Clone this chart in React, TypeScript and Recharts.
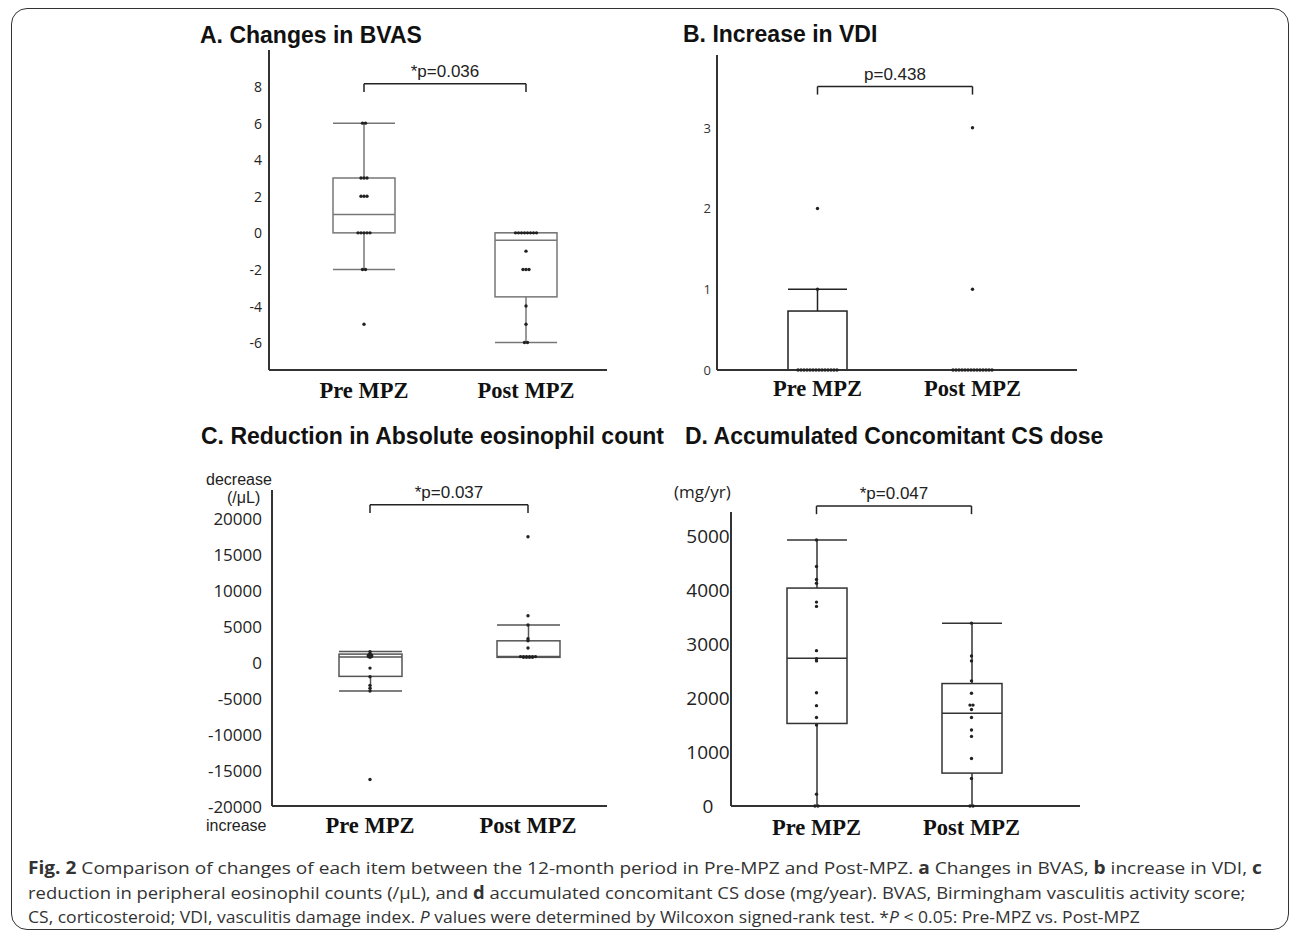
import React from 'react';
import { ComposedChart, Bar, Scatter, XAxis, YAxis, ReferenceLine } from 'recharts';

const groups = ['Pre MPZ', 'Post MPZ'];

// A. change in BVAS (points per patient)
const bvasPre = [6, 6, 3, 3, 3, 2, 2, 2, 0, 0, 0, 0, 0, -2, -2, -5];
const bvasPost = [0, 0, 0, 0, 0, 0, 0, 0, -1, -2, -2, -2, -4, -5, -6, -6];
// [low whisker, Q1, median, Q3, high whisker] for pre / post
const bvasBox = [[-2, 0, 1, 3, 6], [-6, -3.5, -0.4, 0, 0]];
const bvasTicks = [-6, -4, -2, 0, 2, 4, 6, 8];

// B. increase in VDI
const vdiPre = [0, 0, 0, 0, 0, 0, 0, 0, 0, 0, 0, 0, 0, 0, 1, 2];
const vdiPost = [0, 0, 0, 0, 0, 0, 0, 0, 0, 0, 0, 0, 0, 0, 1, 3];
const vdiBox = [[0, 0, 0, 0.73, 1], [0, 0, 0, 0, 0]];
const vdiTicks = [0, 1, 2, 3];

// C. reduction in eosinophil count (/uL)
const eosPre = [1500, 1200, 1100, 1000, 1000, 900, 900, 800, 800, 700, -800, -2000, -3200, -3600, -4000, -16300];
const eosPost = [17500, 6500, 5200, 3300, 3000, 2000, 800, 800, 800, 800, 800, 800, 700, 700, 700, 700];
const eosBox = [[-4000, -1950, 750, 1150, 1500], [700, 700, 800, 3000, 5200]];
const eosTicks = [-20000, -15000, -10000, -5000, 0, 5000, 10000, 15000, 20000];

// D. accumulated CS dose (mg/yr)
const csPre = [4930, 4440, 4200, 4130, 3780, 3700, 2880, 2730, 2690, 2100, 1860, 1640, 1500, 220, 0, 0];
const csPost = [3390, 2780, 2690, 2320, 2090, 1870, 1870, 1790, 1640, 1410, 1290, 880, 510, 0, 0];
const csBox = [[0, 1530, 2740, 4040, 4930], [0, 610, 1720, 2270, 3390]];
const csTicks = [0, 1000, 2000, 3000, 4000, 5000];

const pValues = ['*p=0.036', 'p=0.438', '*p=0.037', '*p=0.047'];

function dotsOf(values: number[], name: string) {
  const counts: Record<string, number> = {};
  const seen: Record<string, number> = {};
  values.forEach((v) => (counts[v] = (counts[v] || 0) + 1));
  return values.map((v) => {
    const k = seen[v] || 0;
    seen[v] = k + 1;
    return { name, value: v, k, n: counts[v] };
  });
}

const makeBox = (stroke: string) => (props: any) => {
  const { x, y, width, height, payload } = props;
  const [lo, q1, med, q3, hi] = payload.stats;
  const top = Math.min(y, y + height);
  const bottom = Math.max(y, y + height);
  const px = (v: number) => (hi === lo ? bottom : bottom - ((bottom - top) * (v - lo)) / (hi - lo));
  const cx = x + width / 2;
  const s = { stroke, strokeWidth: 1.5 };
  return (
    <g>
      <line x1={cx} x2={cx} y1={px(hi)} y2={px(lo)} {...s} />
      <line x1={x} x2={x + width} y1={px(hi)} y2={px(hi)} {...s} />
      <line x1={x} x2={x + width} y1={px(lo)} y2={px(lo)} {...s} />
      <rect x={x} y={px(q3)} width={width} height={px(q1) - px(q3)} fill="#fff" {...s} />
      <line x1={x} x2={x + width} y1={px(med)} y2={px(med)} {...s} />
    </g>
  );
};

const Dot = (props: any) => {
  const { cx, cy, payload } = props;
  const dx = (payload.k - (payload.n - 1) / 2) * 3;
  return <circle cx={cx + dx} cy={cy} r={1.7} fill="#222" />;
};

type PanelProps = {
  pre: number[];
  post: number[];
  box: number[][];
  ticks: number[];
  domain: [number, number];
  pText: string;
  bracket: [number, number];
  left: number;
  top: number;
  plotW: number;
  plotH: number;
  marginTop: number;
  padding: { left: number; right: number };
  barSize: number;
  boxStroke: string;
  tickFs: number;
  tickDx: number;
  tickAnchor: 'end' | 'middle';
  tickFill: string;
  labelDy: number;
};

function BoxPanel(p: PanelProps) {
  const yw = 70;
  const data = groups.map((name, i) => ({ name, range: [p.box[i][0], p.box[i][4]], stats: p.box[i] }));
  const dots = [...dotsOf(p.pre, groups[0]), ...dotsOf(p.post, groups[1])];
  const width = yw + p.plotW + 10;
  const height = p.marginTop + p.plotH + 40;
  const line = { stroke: '#222', strokeWidth: 1.5 };
  return (
    <div style={{ position: 'absolute', left: p.left - yw, top: p.top - p.marginTop }}>
      <ComposedChart
        width={width}
        height={height}
        data={data}
        margin={{ top: p.marginTop, right: 10, bottom: 0, left: 0 }}
      >
        <XAxis
          dataKey="name"
          type="category"
          allowDuplicatedCategory={false}
          padding={p.padding}
          height={40}
          tickLine={false}
          tickSize={0}
          tickMargin={0}
          interval={0}
          axisLine={{ stroke: '#333', strokeWidth: 2 }}
          tick={(t: any) => (
            <text
              x={t.x}
              y={t.y + p.labelDy}
              textAnchor="middle"
              dominantBaseline="central"
              fontFamily="'Liberation Serif', 'Times New Roman', serif"
              fontWeight={700}
              fontSize={22.5}
              fill="#111"
            >
              {t.payload.value}
            </text>
          )}
        />
        <YAxis
          type="number"
          width={yw}
          domain={p.domain}
          ticks={p.ticks}
          interval={0}
          tickLine={false}
          tickSize={0}
          tickMargin={0}
          axisLine={{ stroke: '#333', strokeWidth: 2 }}
          tick={(t: any) => (
            <text
              x={t.x + p.tickDx}
              y={t.y}
              textAnchor={p.tickAnchor}
              dominantBaseline="central"
              fontFamily="'Open Sans', sans-serif"
              fontSize={p.tickFs}
              fill={p.tickFill}
            >
              {t.payload.value}
            </text>
          )}
        />
        <Bar dataKey="range" barSize={p.barSize} shape={makeBox(p.boxStroke)} isAnimationActive={false} />
        <Scatter data={dots} dataKey="value" shape={Dot} isAnimationActive={false} />
        <ReferenceLine
          segment={[{ x: groups[0], y: p.bracket[0] }, { x: groups[1], y: p.bracket[0] }]}
          ifOverflow="visible"
          {...line}
          label={{
            value: p.pText,
            position: 'top',
            offset: 7,
            fill: '#222',
            fontSize: 17,
            fontFamily: "'Liberation Sans', Arial, sans-serif",
          }}
        />
        <ReferenceLine
          segment={[{ x: groups[0], y: p.bracket[0] }, { x: groups[0], y: p.bracket[1] }]}
          ifOverflow="visible"
          {...line}
        />
        <ReferenceLine
          segment={[{ x: groups[1], y: p.bracket[0] }, { x: groups[1], y: p.bracket[1] }]}
          ifOverflow="visible"
          {...line}
        />
      </ComposedChart>
    </div>
  );
}

const titleStyle: React.CSSProperties = {
  position: 'absolute',
  fontFamily: "'Liberation Sans', Arial, sans-serif",
  fontWeight: 700,
  fontSize: 23,
  lineHeight: '23px',
  color: '#111',
  whiteSpace: 'nowrap',
};

const sideStyle: React.CSSProperties = {
  position: 'absolute',
  fontFamily: "'Liberation Sans', Arial, sans-serif",
  fontSize: 16,
  lineHeight: '18px',
  color: '#222',
  whiteSpace: 'nowrap',
};

// one caption line, squeezed horizontally to the width it has in the figure
function CapLine({ top, width, children }: { top: number; width: number; children: React.ReactNode }) {
  const ref = React.useRef<HTMLSpanElement>(null);
  const [k, setK] = React.useState(0.9);
  React.useLayoutEffect(() => {
    const w = ref.current ? ref.current.offsetWidth : 0;
    if (w > 0) setK(width / w);
  }, [width]);
  return (
    <span
      ref={ref}
      style={{
        position: 'absolute',
        left: 28,
        top,
        display: 'inline-block',
        whiteSpace: 'nowrap',
        transform: `scaleX(${k})`,
        transformOrigin: '0 0',
        fontFamily: "'Open Sans', sans-serif",
        fontSize: 17,
        lineHeight: '17px',
        color: '#333',
      }}
    >
      {children}
    </span>
  );
}

export default function App() {
  return (
    <div style={{ position: 'absolute', left: 0, top: 0, width: 1292, height: 934, background: '#fff', overflow: 'hidden' }}>
      <div
        style={{
          position: 'absolute',
          left: 11,
          top: 8,
          width: 1276,
          height: 920,
          border: '1.5px solid #333',
          borderRadius: 16,
        }}
      />
      <div style={{ ...titleStyle, left: 200, top: 24 }}>A. Changes in BVAS</div>
      <div style={{ ...titleStyle, left: 683, top: 23 }}>B. Increase in VDI</div>
      <div style={{ ...titleStyle, left: 201, top: 425 }}>C. Reduction in Absolute eosinophil count</div>
      <div style={{ ...titleStyle, left: 685, top: 425 }}>D. Accumulated Concomitant CS dose</div>

      <BoxPanel
        pre={bvasPre}
        post={bvasPost}
        box={bvasBox}
        ticks={bvasTicks}
        domain={[-7.5, 10]}
        pText={pValues[0]}
        bracket={[8.15, 7.7]}
        left={269}
        top={50}
        plotW={338}
        plotH={320}
        marginTop={10}
        padding={{ left: 14, right: 0 }}
        barSize={62}
        boxStroke="#777"
        tickFs={14}
        tickDx={-7}
        tickAnchor="end"
        tickFill="#222"
        labelDy={20}
      />
      <BoxPanel
        pre={vdiPre}
        post={vdiPost}
        box={vdiBox}
        ticks={vdiTicks}
        domain={[0, 3.9]}
        pText={pValues[1]}
        bracket={[3.51, 3.41]}
        left={717}
        top={55}
        plotW={360}
        plotH={315}
        marginTop={10}
        padding={{ left: 23, right: 27 }}
        barSize={59}
        boxStroke="#222"
        tickFs={13}
        tickDx={-6}
        tickAnchor="end"
        tickFill="#333"
        labelDy={18}
      />
      <BoxPanel
        pre={eosPre}
        post={eosPost}
        box={eosBox}
        ticks={eosTicks}
        domain={[-20000, 24000]}
        pText={pValues[2]}
        bracket={[21950, 20800]}
        left={272}
        top={490}
        plotW={335}
        plotH={316}
        marginTop={40}
        padding={{ left: 19, right: 0 }}
        barSize={63}
        boxStroke="#555"
        tickFs={17}
        tickDx={-10}
        tickAnchor="end"
        tickFill="#222"
        labelDy={19}
      />
      <BoxPanel
        pre={csPre}
        post={csPost}
        box={csBox}
        ticks={csTicks}
        domain={[0, 5450]}
        pText={pValues[3]}
        bracket={[5560, 5410]}
        left={731}
        top={512}
        plotW={349}
        plotH={294}
        marginTop={45}
        padding={{ left: 8, right: 31 }}
        barSize={60}
        boxStroke="#333"
        tickFs={19}
        tickDx={-23}
        tickAnchor="middle"
        tickFill="#222"
        labelDy={21}
      />

      <div style={{ ...sideStyle, left: 206, top: 471 }}>decrease</div>
      <div style={{ ...sideStyle, left: 227, top: 489 }}>(/μL)</div>
      <div style={{ ...sideStyle, left: 206, top: 817 }}>increase</div>
      <div style={{ ...sideStyle, left: 674, top: 483, fontFamily: "'Open Sans', sans-serif", fontSize: 17 }}>(mg/yr)</div>

      <CapLine top={859} width={1234}>
        <b>Fig. 2</b> Comparison of changes of each item between the 12-month period in Pre-MPZ and Post-MPZ.{' '}
        <b>a</b> Changes in BVAS, <b>b</b> increase in VDI, <b>c</b>
      </CapLine>
      <CapLine top={884} width={1217}>
        reduction in peripheral eosinophil counts (/μL), and <b>d</b> accumulated concomitant CS dose (mg/year). BVAS,
        Birmingham vasculitis activity score;
      </CapLine>
      <CapLine top={908} width={1112}>
        CS, corticosteroid; VDI, vasculitis damage index. <i>P</i> values were determined by Wilcoxon signed-rank test.
        *<i>P</i> &lt; 0.05: Pre-MPZ vs. Post-MPZ
      </CapLine>
    </div>
  );
}
